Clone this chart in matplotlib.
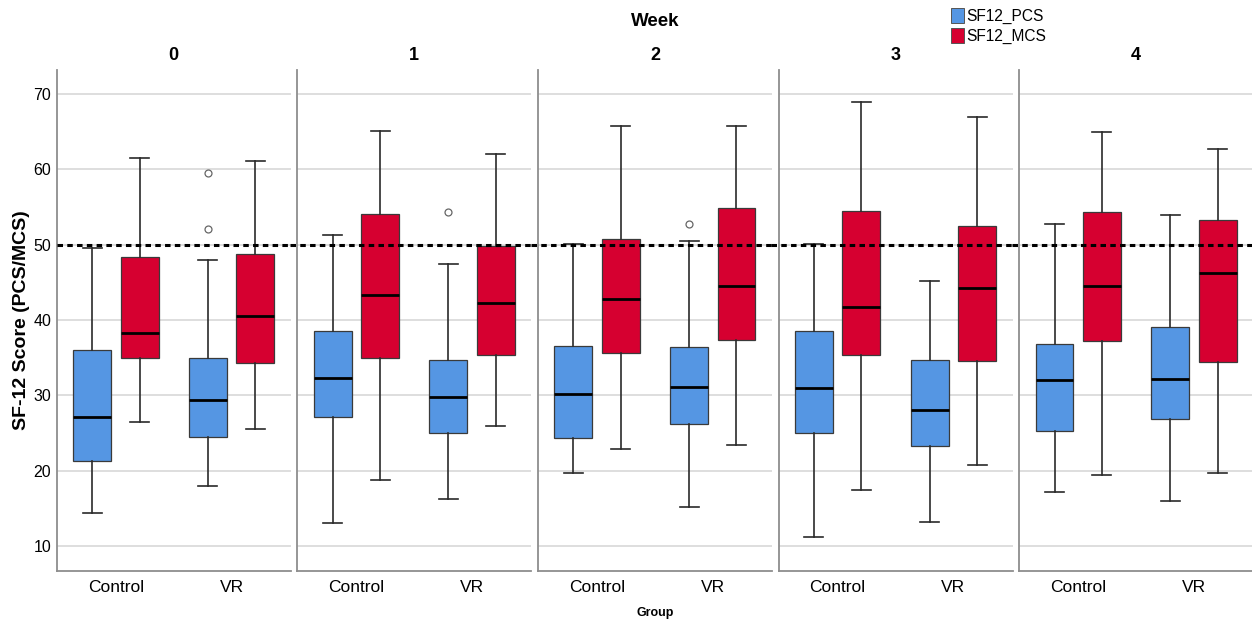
import matplotlib

matplotlib.use("Agg")
import matplotlib.pyplot as plt
from matplotlib.patches import Patch

plt.rcParams["font.family"] = ["Liberation Sans", "DejaVu Sans"]

weeks = ["0", "1", "2", "3", "4"]
groups = ["Control", "VR"]

# per week: [Control, VR]
pcs_low = [[14.3, 17.9], [13.0, 16.25], [19.7, 15.2], [11.2, 13.2], [17.1, 15.9]]
pcs_q1 = [[21.3, 24.45], [27.05, 25.0], [24.35, 26.2], [25.05, 23.3], [25.2, 26.9]]
pcs_med = [[27.1, 29.4], [32.3, 29.8], [30.2, 31.1], [30.9, 28.0], [32.0, 32.1]]
pcs_q3 = [[36.0, 35.0], [38.5, 34.7], [36.6, 36.4], [38.5, 34.7], [36.75, 39.05]]
pcs_high = [[49.5, 48.0], [51.3, 47.5], [50.1, 50.5], [50.1, 45.2], [52.7, 54.0]]
pcs_out = [[[], [59.5, 52.1]], [[], [54.3]], [[], [52.7]], [[], []], [[], []]]

mcs_low = [[26.5, 25.5], [18.8, 25.9], [22.8, 23.4], [17.4, 20.7], [19.4, 19.7]]
mcs_q1 = [[35.0, 34.3], [35.0, 35.4], [35.55, 37.3], [35.3, 34.5], [37.15, 34.45]]
mcs_med = [[38.3, 40.5], [43.3, 42.3], [42.8, 44.45], [41.75, 44.2], [44.45, 46.3]]
mcs_q3 = [[48.4, 48.75], [54.1, 49.8], [50.8, 54.9], [54.5, 52.5], [54.3, 53.3]]
mcs_high = [[61.5, 61.1], [65.1, 62.1], [65.8, 65.8], [69.0, 67.0], [64.95, 62.7]]
mcs_out = [[[], []], [[], []], [[], []], [[], []], [[], []]]

norm_line = 50
y_ticks = [10, 20, 30, 40, 50, 60, 70]

PCS_COLOR = "#5596e3"
MCS_COLOR = "#d60030"
AXIS_GREY = "#8e8e8e"
GRID_GREY = "#d8d8d8"


def _stats(low, q1, med, q3, high, out, w, g):
    return dict(
        whislo=low[w][g], q1=q1[w][g], med=med[w][g], q3=q3[w][g],
        whishi=high[w][g], fliers=out[w][g],
    )


W, H = 1252, 620
fig = plt.figure(figsize=(W / 100, H / 100), dpi=100)

panel_left, panel_step, panel_w = 56.7, 240.6, 234.0
bottom_px, top_px = 570.7, 70.0

offset, box_w = 0.205, 0.328
for k, week in enumerate(weeks):
    ax = fig.add_axes([
        (panel_left + k * panel_step) / W,
        (H - bottom_px) / H,
        panel_w / W,
        (bottom_px - top_px) / H,
    ])
    for series, color, sign in (
        ((pcs_low, pcs_q1, pcs_med, pcs_q3, pcs_high, pcs_out), PCS_COLOR, -1),
        ((mcs_low, mcs_q1, mcs_med, mcs_q3, mcs_high, mcs_out), MCS_COLOR, 1),
    ):
        stats = [_stats(*series, k, g) for g in range(len(groups))]
        ax.bxp(
            stats,
            positions=[g + sign * offset for g in range(len(groups))],
            widths=box_w,
            patch_artist=True,
            showfliers=True,
            boxprops=dict(facecolor=color, edgecolor="#3a3a3a", linewidth=0.9),
            medianprops=dict(color="black", linewidth=2.0),
            whiskerprops=dict(color="#2a2a2a", linewidth=1.2),
            capprops=dict(color="#2a2a2a", linewidth=1.2),
            flierprops=dict(marker="o", markersize=5, markerfacecolor="white",
                            markeredgecolor="#666666", markeredgewidth=0.9),
            zorder=3,
        )

    ax.set_xlim(-0.511, 1.511)
    ax.set_ylim(6.7, 73.2)
    ax.set_yticks(y_ticks)
    ax.set_xticks(range(len(groups)))
    ax.set_xticklabels(groups, fontsize=12.5)
    for y in y_ticks:
        ax.axhline(y, color=GRID_GREY, linewidth=1.2, zorder=1)
    ax.axhline(norm_line, xmin=-0.03 if k else 0, xmax=1.0, color="black",
               linewidth=2.2, linestyle=(0, (1.8, 1.4)), zorder=5, clip_on=False)

    for side in ("top", "right"):
        ax.spines[side].set_visible(False)
    for side in ("left", "bottom"):
        ax.spines[side].set_color(AXIS_GREY)
        ax.spines[side].set_linewidth(1.3)
    ax.tick_params(axis="both", length=0, colors="black")
    ax.tick_params(axis="x", pad=7)
    ax.tick_params(axis="y", pad=4, labelsize=11.5)
    if k:
        ax.set_yticklabels([])
    else:
        ax.set_ylabel("SF-12 Score (PCS/MCS)", fontsize=14, fontweight="bold",
                      labelpad=2)
    ax.set_title(week, fontsize=13, fontweight="bold", pad=7)

center_x = (panel_left + (panel_left + 4 * panel_step + panel_w)) / 2 / W
fig.text(center_x, 1 - 22 / H, "Week", ha="center", va="center",
         fontsize=13.5, fontweight="bold")
fig.text(center_x, 1 - 613 / H, "Group", ha="center", va="center",
         fontsize=9, fontweight="bold")

handles = [
    Patch(facecolor=PCS_COLOR, edgecolor="#555555", linewidth=0.7, label="SF12_PCS"),
    Patch(facecolor=MCS_COLOR, edgecolor="#555555", linewidth=0.7, label="SF12_MCS"),
]
fig.legend(
    handles=handles, loc="upper left", bbox_to_anchor=(951 / W, 1 - 8 / H),
    frameon=False, fontsize=11.2, handlelength=0.85, handleheight=1.1,
    handletextpad=0.15, labelspacing=0.25, borderpad=0, borderaxespad=0,
)

fig.savefig("out.png", dpi=100)
